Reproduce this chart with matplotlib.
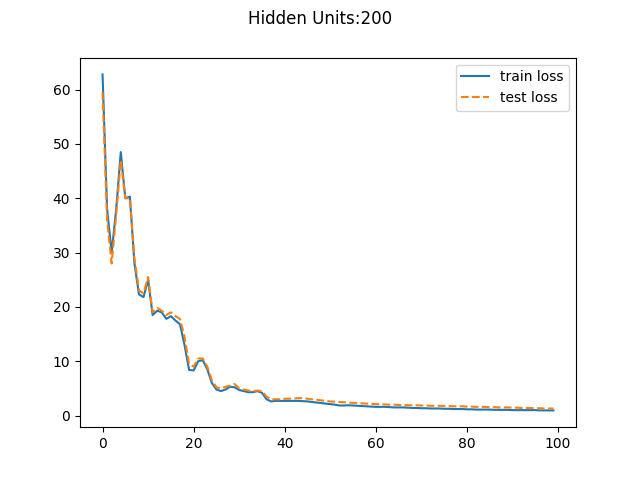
import matplotlib
matplotlib.use('Agg')
import matplotlib.pyplot as plt

train_loss = [62.8, 38.0, 30.0, 38.0, 48.5, 40.0, 40.3, 28.0, 22.3, 21.8,
              25.0, 18.5, 19.3, 19.0, 17.8, 18.3, 17.5, 16.8, 13.0, 8.4,
              8.3, 10.0, 10.2, 8.5, 6.0, 4.8, 4.5, 4.8, 5.3, 5.2,
              4.7, 4.5, 4.3, 4.3, 4.5, 4.2, 3.0, 2.6, 2.7, 2.7,
              2.7, 2.7, 2.7, 2.7, 2.65, 2.6, 2.5, 2.4, 2.3, 2.2,
              2.1, 2.0, 1.85, 1.85, 1.9, 1.85, 1.8, 1.75, 1.7, 1.65,
              1.6, 1.6, 1.6, 1.55, 1.5, 1.5, 1.5, 1.45, 1.4, 1.4,
              1.35, 1.35, 1.3, 1.3, 1.3, 1.25, 1.25, 1.2, 1.2, 1.2,
              1.15, 1.15, 1.1, 1.1, 1.1, 1.1, 1.05, 1.05, 1.05, 1.05,
              1.0, 1.0, 1.0, 1.0, 1.0, 1.0, 0.95, 0.95, 0.95, 0.95]
test_loss = [59.5, 36.0, 28.0, 37.0, 47.0, 40.0, 40.0, 29.0, 23.0, 22.5,
             25.5, 19.0, 19.8, 19.3, 18.5, 19.0, 18.3, 17.8, 14.5, 9.5,
             9.0, 10.5, 10.5, 9.0, 6.5, 5.2, 5.0, 5.3, 5.5, 5.8,
             5.0, 4.8, 4.6, 4.5, 4.6, 4.5, 3.5, 3.0, 3.0, 3.0,
             3.1, 3.1, 3.15, 3.2, 3.2, 3.1, 3.0, 2.9, 2.8, 2.7,
             2.6, 2.55, 2.5, 2.45, 2.4, 2.35, 2.3, 2.25, 2.2, 2.15,
             2.1, 2.1, 2.05, 2.0, 2.0, 1.95, 1.95, 1.9, 1.9, 1.9,
             1.85, 1.85, 1.8, 1.8, 1.8, 1.75, 1.75, 1.7, 1.7, 1.7,
             1.65, 1.65, 1.6, 1.6, 1.6, 1.55, 1.55, 1.5, 1.5, 1.5,
             1.45, 1.45, 1.4, 1.4, 1.4, 1.35, 1.35, 1.3, 1.3, 1.3]

fig, ax = plt.subplots(figsize=(6.4, 4.8), dpi=100)
ax.plot(range(len(train_loss)), train_loss, label='train loss')
ax.plot(range(len(test_loss)), test_loss, '--', label='test loss')
ax.legend()
fig.suptitle('Hidden Units:200')
fig.savefig('out.png')
